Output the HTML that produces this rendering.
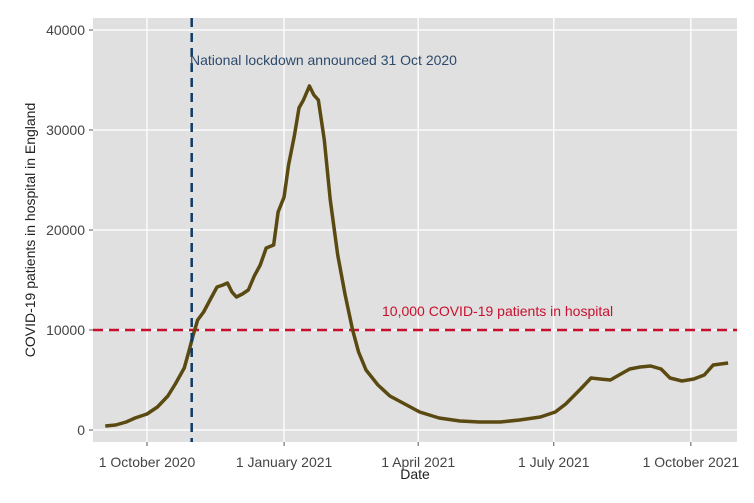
<!DOCTYPE html>
<html><head><meta charset="utf-8"><style>
body{margin:0;background:#fff;}
svg{display:block;font-family:"Liberation Sans",sans-serif;}
</style></head><body>
<svg id="chart" width="754" height="503"></svg>
<script>
const dayOffsets=[2,9,16,22,30,37,44,49,55,58,61,64,68,73,77,81,84,87,90,94,98,102,106,110,115,118,122,125,129,132,135,139,142,145,149,153,158,163,168,172,177,185,193,203,213,226,240,253,267,280,294,304,311,321,328,334,341,348,354,361,368,375,381,389,397,404,410,420];
const patients=[400,500,800,1200,1600,2300,3400,4600,6200,7800,9500,11000,11800,13200,14300,14500,14700,13800,13300,13600,14000,15400,16500,18200,18500,21800,23300,26500,29500,32200,33000,34400,33500,33000,29000,23000,17500,13500,10000,7800,6000,4500,3400,2600,1800,1200,900,800,800,1000,1300,1800,2600,4100,5200,5100,5000,5600,6100,6300,6400,6100,5200,4900,5100,5500,6500,6700];
const yTicks=[0,10000,20000,30000,40000];
const xTickDays=[30,122,212,303,395];
const xTickLabels=["1 October 2020","1 January 2021","1 April 2021","1 July 2021","1 October 2021"];
const lockdownDay=60;
const threshold=10000;

const NS="http://www.w3.org/2000/svg";
const svg=document.getElementById('chart');
const L=93,R=737,T=18,B=442;
const x=d=>147+(d-30)*1.49;
const y=v=>430-v/100;
function mk(t,a,p){const e=document.createElementNS(NS,t);for(const k in a)e.setAttribute(k,a[k]);(p||svg).appendChild(e);return e;}
const panel=mk('rect',{x:L,y:T,width:R-L,height:B-T,fill:'#e0e0e0'});


yTicks.forEach(v=>{
  const g=mk('line',{x1:L,x2:R,y1:y(v),y2:y(v),stroke:'#fff','stroke-width':1.3});
  
  
  mk('line',{x1:L-4,x2:L,y1:y(v),y2:y(v),stroke:'#555'});
  const t=mk('text',{x:L-8,y:y(v)+5,'text-anchor':'end','font-size':14,fill:'#444'});t.textContent=v;
  
  
});
xTickDays.forEach((d,i)=>{
  const g=mk('line',{x1:x(d),x2:x(d),y1:T,y2:B,stroke:'#fff','stroke-width':1.3});
  
  
  mk('line',{x1:x(d),x2:x(d),y1:B,y2:B+4,stroke:'#555'});
  const t=mk('text',{x:x(d),y:467,'text-anchor':'middle','font-size':14,fill:'#444'});t.textContent=xTickLabels[i];
  
  
});
const hl=mk('line',{x1:L,x2:R,y1:y(threshold),y2:y(threshold),stroke:'#c8102e','stroke-width':2.5,'stroke-dasharray':'10,6'});


const ht=mk('text',{x:382,y:316,'font-size':14,fill:'#c8102e'});ht.textContent='10,000 COVID-19 patients in hospital';


const pts=dayOffsets.map((d,i)=>x(d)+','+y(patients[i])).join(' ');
const line=mk('polyline',{points:pts,fill:'none',stroke:'#5a4a12','stroke-width':3.5,'stroke-linejoin':'round'});


const vl=mk('line',{x1:x(lockdownDay),x2:x(lockdownDay),y1:T,y2:B,stroke:'#0d3b66','stroke-width':2.5,'stroke-dasharray':'9,6'});


const vt=mk('text',{x:190,y:65,'font-size':14,fill:'#2d4a6b'});vt.textContent='National lockdown announced 31 Oct 2020';


const xt=mk('text',{x:415,y:479,'text-anchor':'middle','font-size':14,fill:'#222'});xt.textContent='Date';


const yt=mk('text',{x:0,y:0,'text-anchor':'middle','font-size':14,fill:'#222',transform:'translate(35,230) rotate(-90)'});yt.textContent='COVID-19 patients in hospital in England';


</script>
</body></html>
